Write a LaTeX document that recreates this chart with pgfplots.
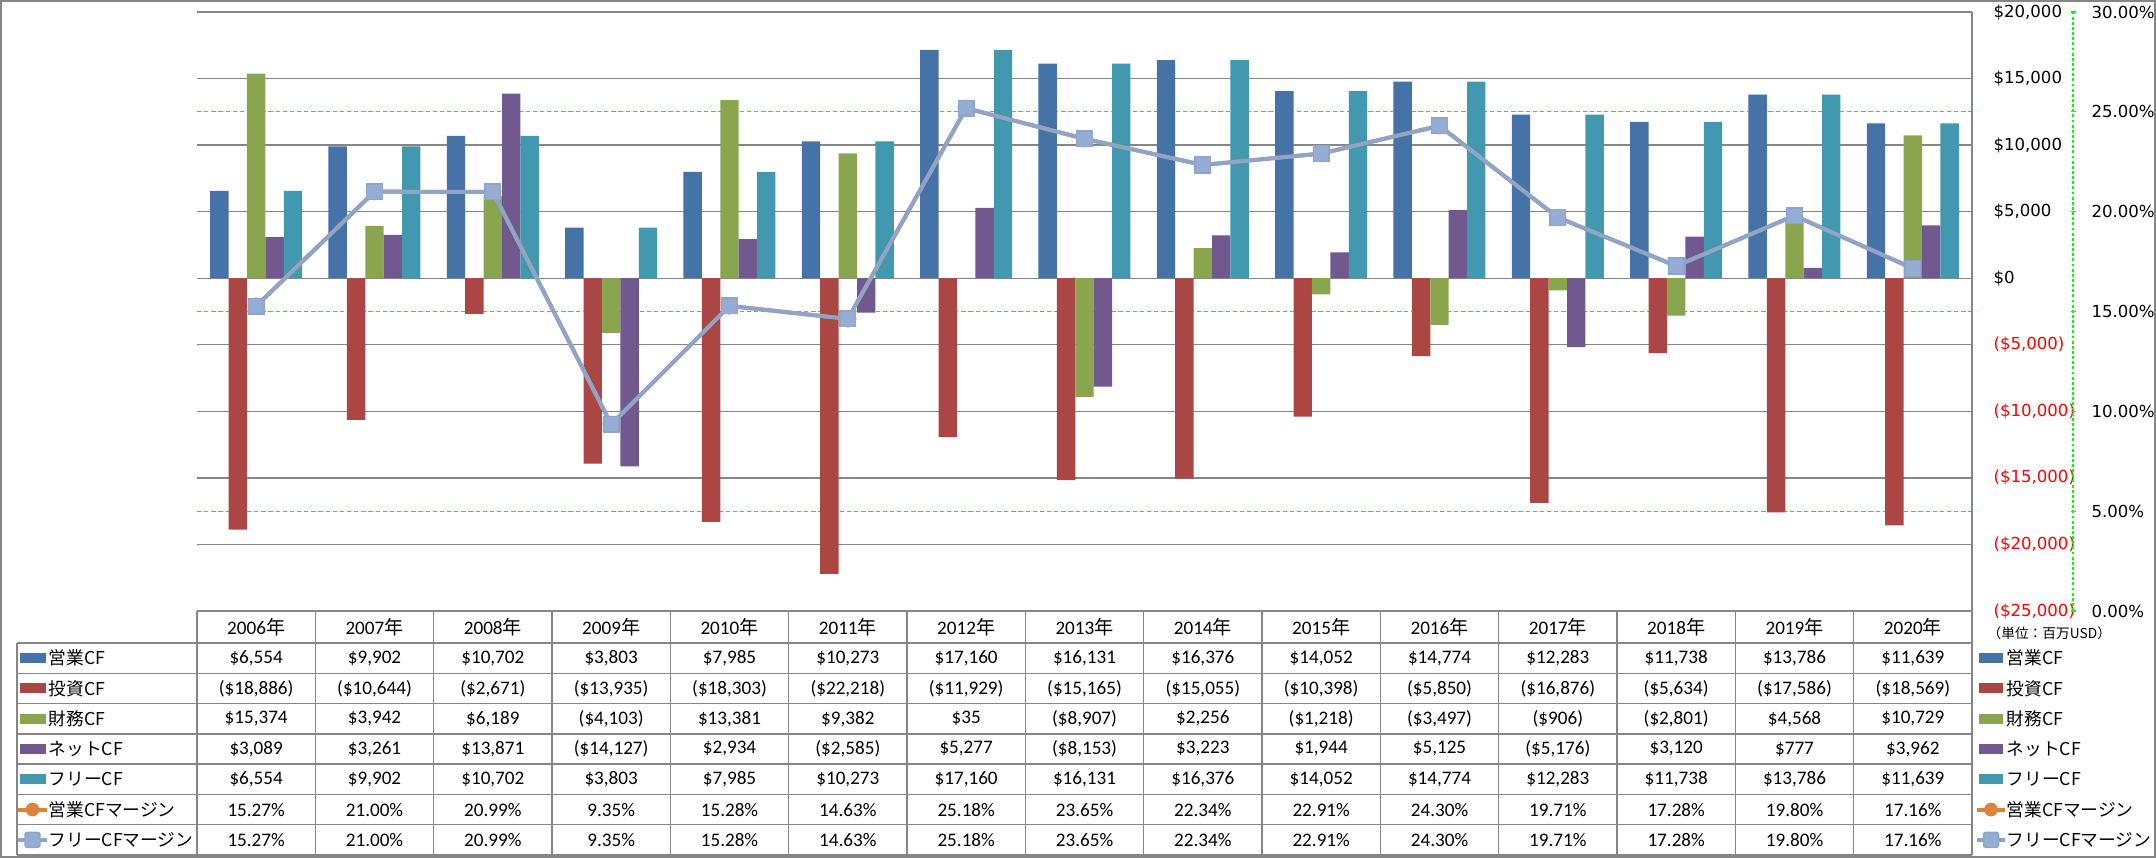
\documentclass[border=0pt]{standalone}
\usepackage{fontspec}
\setmainfont{Carlito}
\newfontfamily\cjk{Noto Sans CJK JP}
\newfontfamily\tickfont{DejaVu Sans}
\usepackage{pgfplots}
\pgfplotsset{compat=1.18}
\definecolor{cfblue}{HTML}{4572A7}
\definecolor{cfred}{HTML}{AA4643}
\definecolor{cfgreen}{HTML}{89A54E}
\definecolor{cfpurple}{HTML}{71588F}
\definecolor{cfteal}{HTML}{4198AF}
\definecolor{cforange}{HTML}{DB843D}
\definecolor{lnblue}{HTML}{8EA5CB}
\definecolor{mkblue}{HTML}{95ADD5}
\definecolor{gridgrey}{HTML}{868686}
\definecolor{dgreen}{HTML}{00FF00}
\newcommand\tf{\fontsize{6.7pt}{8pt}\selectfont}
\newcommand\lf{\cjk\fontsize{6.2pt}{8pt}\selectfont}
\begin{document}
\begin{tikzpicture}
\begin{scope}[x=0.35pt,y=0.35pt]
\useasboundingbox (0,0) rectangle (2156,858);
\draw[gridgrey,line width=0.5pt] (1,1) rectangle (2155,857);
\end{scope}
% ---------------- bars ($ axis)
\begin{axis}[
  at={(68.95pt,86.45pt)}, anchor=south west,
  scale only axis, width=621.25pt, height=209.65pt,
  xmin=-0.5, xmax=14.5, ymin=-25000, ymax=20000,
  axis line style={draw=none}, tick style={draw=none},
  xtick=\empty, scaled y ticks=false,
  ytick={-25000,-20000,-15000,-10000,-5000,0,5000,10000,15000,20000},
  yticklabels={{\color{red}(\$25,000)},{\color{red}(\$20,000)},{\color{red}(\$15,000)},{\color{red}(\$10,000)},{\color{red}(\$5,000)},\$0,{\$5,000},{\$10,000},{\$15,000},{\$20,000}},
  yticklabel pos=right,
  yticklabel style={font=\tickfont\fontsize{5.8pt}{7pt}\selectfont, anchor=west, inner sep=0pt, xshift=7.35pt},
  ymajorgrids, major grid style={draw=gridgrey, line width=0.5pt},
  extra y ticks={-17500,-2500,12500},
  extra y tick labels={},
  extra y tick style={grid=major, major grid style={draw=dgreen, line width=0.45pt, dash pattern=on 1.5pt off 1pt}},
  ybar=0pt, bar width=6.44pt,
]
\addplot[fill=cfblue, draw=none] coordinates {(0,6554) (1,9902) (2,10702) (3,3803) (4,7985) (5,10273) (6,17160) (7,16131) (8,16376) (9,14052) (10,14774) (11,12283) (12,11738) (13,13786) (14,11639)};
\addplot[fill=cfred, draw=none] coordinates {(0,-18886) (1,-10644) (2,-2671) (3,-13935) (4,-18303) (5,-22218) (6,-11929) (7,-15165) (8,-15055) (9,-10398) (10,-5850) (11,-16876) (12,-5634) (13,-17586) (14,-18569)};
\addplot[fill=cfgreen, draw=none] coordinates {(0,15374) (1,3942) (2,6189) (3,-4103) (4,13381) (5,9382) (6,35) (7,-8907) (8,2256) (9,-1218) (10,-3497) (11,-906) (12,-2801) (13,4568) (14,10729)};
\addplot[fill=cfpurple, draw=none] coordinates {(0,3089) (1,3261) (2,13871) (3,-14127) (4,2934) (5,-2585) (6,5277) (7,-8153) (8,3223) (9,1944) (10,5125) (11,-5176) (12,3120) (13,777) (14,3962)};
\addplot[fill=cfteal, draw=none] coordinates {(0,6554) (1,9902) (2,10702) (3,3803) (4,7985) (5,10273) (6,17160) (7,16131) (8,16376) (9,14052) (10,14774) (11,12283) (12,11738) (13,13786) (14,11639)};
\end{axis}
% ---------------- margins (% axis)
\begin{axis}[
  at={(68.95pt,86.45pt)}, anchor=south west,
  scale only axis, width=621.25pt, height=209.65pt,
  xmin=-0.5, xmax=14.5, ymin=0, ymax=30,
  axis line style={draw=none}, tick style={draw=none},
  xtick=\empty, scaled y ticks=false,
  ytick={0,5,10,15,20,25,30},
  yticklabels={0.00\%,5.00\%,10.00\%,15.00\%,20.00\%,25.00\%,30.00\%},
  yticklabel pos=right,
  yticklabel style={font=\tickfont\fontsize{5.8pt}{7pt}\selectfont, anchor=west, inner sep=0pt, xshift=41.65pt},
  clip=false,
]
\addplot[cforange, line width=1.4pt, mark=*, mark size=2.3pt, mark options={fill=cforange, draw=cforange}] coordinates {(0,15.27) (1,21.00) (2,20.99) (3,9.35) (4,15.28) (5,14.63) (6,25.18) (7,23.65) (8,22.34) (9,22.91) (10,24.30) (11,19.71) (12,17.28) (13,19.80) (14,17.16)};
\addplot[lnblue, line width=1.4pt, mark=square*, mark size=2.75pt, mark options={fill=mkblue, draw=lnblue, line width=0.5pt, rounded corners=0.8pt}] coordinates {(0,15.27) (1,21.00) (2,20.99) (3,9.35) (4,15.28) (5,14.63) (6,25.18) (7,23.65) (8,22.34) (9,22.91) (10,24.30) (11,19.71) (12,17.28) (13,19.80) (14,17.16)};
\end{axis}
\begin{scope}[x=0.35pt,y=0.35pt]
% secondary axis line (green dashed) with small ticks
\draw[dgreen, line width=0.4pt, dash pattern=on 1pt off 0.8pt] (2073,247) -- (2073,846);
\foreach \tk in {0,...,6} { \draw[dgreen, line width=0.4pt] (2071,{247+99.833*\tk}) -- (2076,{247+99.833*\tk}); }
% ---------------- data table
\draw[gridgrey,line width=0.5pt] (1972,846) -- (1972,3);
\foreach \k in {0,...,14} { \draw[gridgrey,line width=0.5pt] ({197+118.333*\k},247) -- ({197+118.333*\k},3); }
\draw[gridgrey,line width=0.5pt] (17,215) -- (17,3);
\foreach \k in {0,...,7} { \draw[gridgrey,line width=0.5pt] (17,{215-30.286*\k}) -- (1972,{215-30.286*\k}); }
\foreach \yr [count=\c] in {2006,2007,2008,2009,2010,2011,2012,2013,2014,2015,2016,2017,2018,2019,2020} {
  \node[font=\tf, inner sep=0pt] at ({197+118.333*(\c-0.5)},231) {\yr{\cjk 年}};
}
\foreach \row [count=\r] in {
 {{\$6,554},{\$9,902},{\$10,702},{\$3,803},{\$7,985},{\$10,273},{\$17,160},{\$16,131},{\$16,376},{\$14,052},{\$14,774},{\$12,283},{\$11,738},{\$13,786},{\$11,639}},
 {{(\$18,886)},{(\$10,644)},{(\$2,671)},{(\$13,935)},{(\$18,303)},{(\$22,218)},{(\$11,929)},{(\$15,165)},{(\$15,055)},{(\$10,398)},{(\$5,850)},{(\$16,876)},{(\$5,634)},{(\$17,586)},{(\$18,569)}},
 {{\$15,374},{\$3,942},{\$6,189},{(\$4,103)},{\$13,381},{\$9,382},{\$35},{(\$8,907)},{\$2,256},{(\$1,218)},{(\$3,497)},{(\$906)},{(\$2,801)},{\$4,568},{\$10,729}},
 {{\$3,089},{\$3,261},{\$13,871},{(\$14,127)},{\$2,934},{(\$2,585)},{\$5,277},{(\$8,153)},{\$3,223},{\$1,944},{\$5,125},{(\$5,176)},{\$3,120},{\$777},{\$3,962}},
 {{\$6,554},{\$9,902},{\$10,702},{\$3,803},{\$7,985},{\$10,273},{\$17,160},{\$16,131},{\$16,376},{\$14,052},{\$14,774},{\$12,283},{\$11,738},{\$13,786},{\$11,639}},
 {15.27\%,21.00\%,20.99\%,9.35\%,15.28\%,14.63\%,25.18\%,23.65\%,22.34\%,22.91\%,24.30\%,19.71\%,17.28\%,19.80\%,17.16\%},
 {15.27\%,21.00\%,20.99\%,9.35\%,15.28\%,14.63\%,25.18\%,23.65\%,22.34\%,22.91\%,24.30\%,19.71\%,17.28\%,19.80\%,17.16\%}} {
  \foreach \v [count=\c] in \row {
    \node[font=\tf, inner sep=0pt] at ({197+118.333*(\c-0.5)},{215-30.286*(\r-0.5)}) {\v};
  }
}
% ---------------- legend keys (left column and right side)
\foreach \col/\name [count=\r] in {cfblue/営業CF,cfred/投資CF,cfgreen/財務CF,cfpurple/ネットCF,cfteal/フリーCF} {
  \fill[\col] (20,{215-30.286*(\r-0.5)-5}) rectangle (46,{215-30.286*(\r-0.5)+5});
  \node[font=\lf, anchor=west, inner sep=0pt] at (48,{215-30.286*(\r-0.5)}) {\name};
  \fill[\col] (1979,{215-30.286*(\r-0.5)-5}) rectangle (2003,{215-30.286*(\r-0.5)+5});
  \node[font=\lf, anchor=west, inner sep=0pt] at (2006,{215-30.286*(\r-0.5)}) {\name};
}
\foreach \xa/\xb in {18/47,1977/2005} {
  \draw[cforange, line width=1.4pt] (\xa,{215-30.286*5.5}) -- (\xb,{215-30.286*5.5});
  \fill[cforange] ({(\xa+\xb)/2},{215-30.286*5.5}) circle (2.4pt);
  \draw[lnblue, line width=1.4pt] (\xa,{215-30.286*6.5}) -- (\xb,{215-30.286*6.5});
  \filldraw[fill=mkblue, draw=lnblue, line width=0.5pt, rounded corners=0.8pt] ({(\xa+\xb)/2-7.5},{215-30.286*6.5-7.5}) rectangle ({(\xa+\xb)/2+7.5},{215-30.286*6.5+7.5});
}
\node[font=\lf, anchor=west, inner sep=0pt] at (48,{215-30.286*5.5}) {営業CFマージン};
\node[font=\lf, anchor=west, inner sep=0pt] at (48,{215-30.286*6.5}) {フリーCFマージン};
\node[font=\lf, anchor=west, inner sep=0pt] at (2006,{215-30.286*5.5}) {営業CFマージン};
\node[font=\lf, anchor=west, inner sep=0pt] at (2006,{215-30.286*6.5}) {フリーCFマージン};
\node[font=\cjk\fontsize{4.8pt}{6pt}\selectfont, anchor=west, inner sep=0pt] at (1987,225) {（単位：百万USD）};
\end{scope}
\end{tikzpicture}
\end{document}
